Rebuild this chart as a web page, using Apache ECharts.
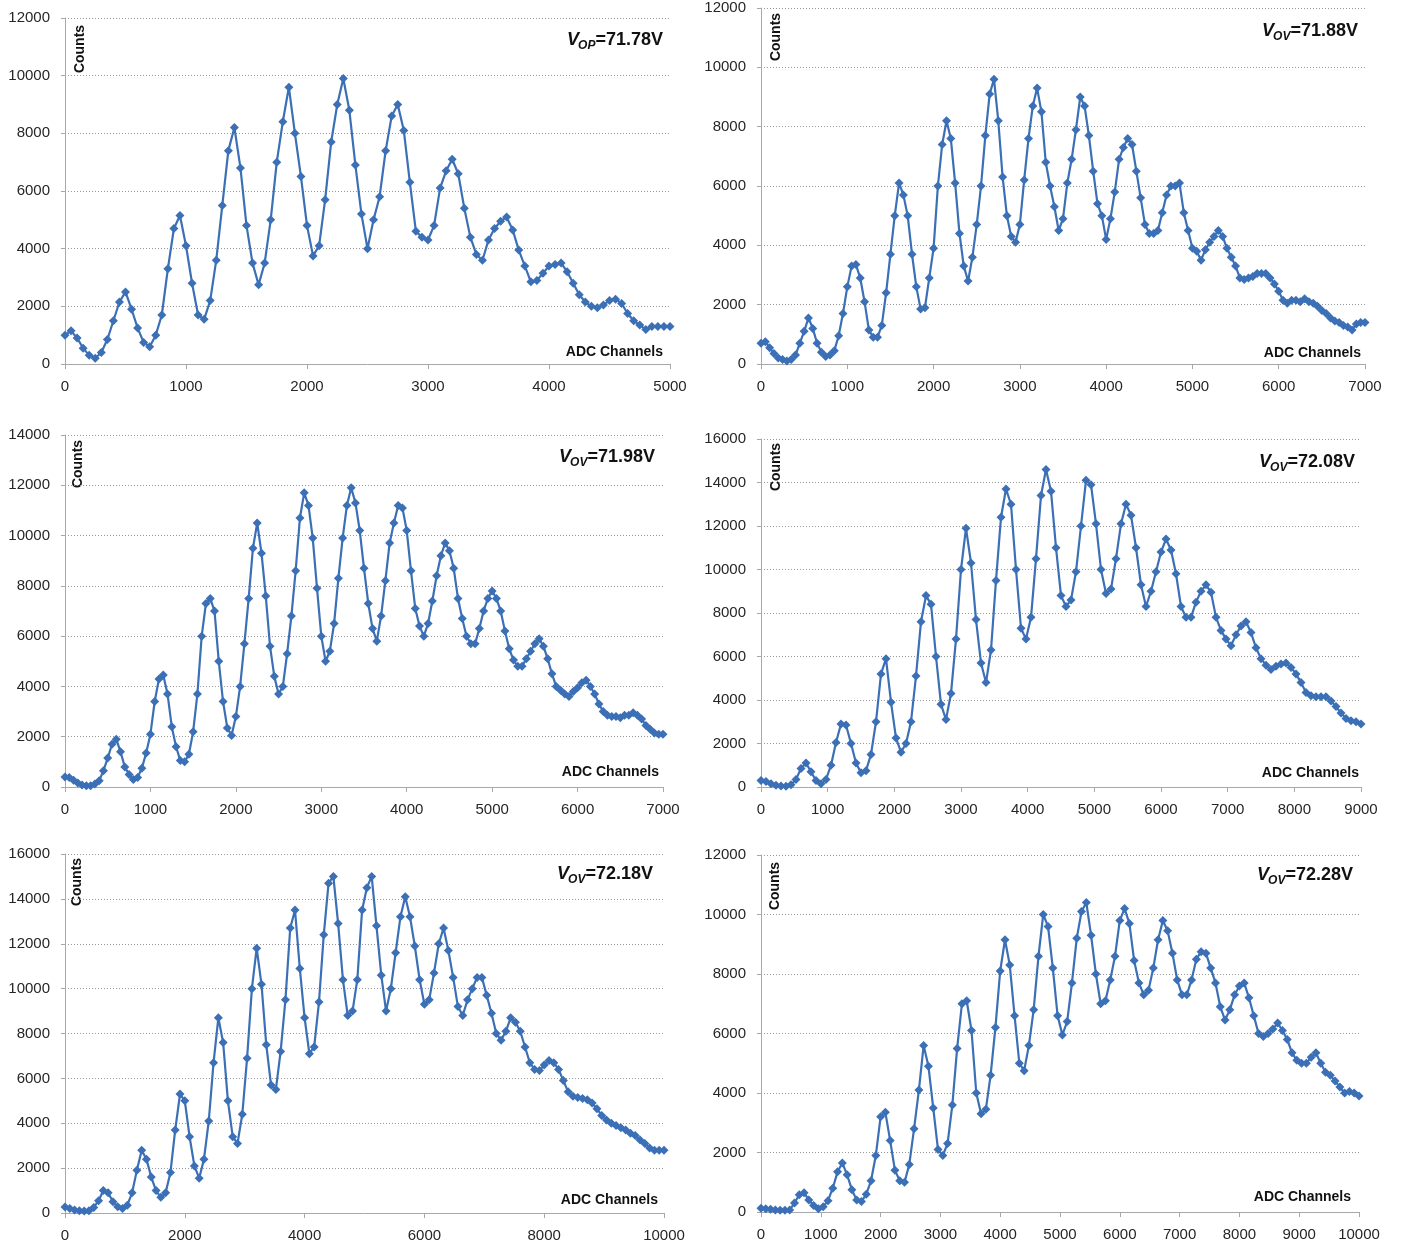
<!DOCTYPE html>
<html>
<head>
<meta charset="utf-8">
<script src="https://cdn.jsdelivr.net/npm/echarts@6/dist/echarts.min.js"></script>
<style>
html,body{margin:0;padding:0;background:#ffffff;}
#chart{width:1411px;height:1247px;}
</style>
</head>
<body>
<div id="chart"></div>
<script>
// ---------------- DATA (counts per ADC channel bin) ----------------
// Panel 1: V_OP = 71.78 V, channels 0..5000
const p1Channels = [0, 5000];
const p1Counts = [
  1000,1150,900,550,300,200,400,850,1500,2150,
  2500,1900,1250,750,600,1000,1700,3300,4700,5150,
  4100,2800,1700,1550,2200,3600,5500,7400,8200,6800,
  4800,3500,2750,3500,5000,7000,8400,9600,8000,6500,
  4800,3750,4100,5700,7700,9000,9900,8800,6900,5200,
  4000,5000,5800,7400,8600,9000,8100,6300,4600,4400,
  4300,4800,6100,6700,7100,6600,5400,4400,3800,3600,
  4300,4700,4950,5100,4650,3950,3400,2850,2900,3150,
  3400,3450,3500,3200,2800,2400,2150,2000,1950,2050,
  2200,2250,2100,1750,1500,1350,1200,1300,1300,1300,
  1300
];
// Panel 2: V_OV = 71.88 V, channels 0..7000
const p2Channels = [0, 7000];
const p2Counts = [
  700,750,550,350,200,150,100,150,300,700,
  1100,1550,1200,700,400,250,300,450,950,1700,
  2600,3300,3350,2900,2100,1150,900,900,1300,2400,
  3700,5000,6100,5700,5000,3700,2600,1850,1900,2900,
  3900,6000,7400,8200,7600,6100,4400,3300,2800,3600,
  4700,6000,7700,9100,9600,8200,6300,5000,4300,4100,
  4700,6200,7600,8700,9300,8500,6800,6000,5300,4500,
  4900,6100,6900,7900,9000,8700,7700,6500,5400,5000,
  4200,4900,5800,6900,7300,7600,7400,6500,5600,4700,
  4400,4400,4500,5100,5700,6000,6000,6100,5100,4500,
  3900,3800,3500,3850,4100,4300,4500,4300,3900,3600,
  3300,2900,2850,2900,2950,3050,3050,3050,2900,2700,
  2450,2150,2050,2150,2150,2100,2200,2100,2050,1950,
  1800,1700,1550,1450,1400,1300,1250,1150,1350,1400,
  1400
];
// Panel 3: V_OV = 71.98 V, channels 0..7000
const p3Channels = [0, 7000];
const p3Counts = [
  400,380,270,160,80,50,50,120,250,650,
  1150,1700,1900,1400,800,500,300,380,750,1350,
  2100,3400,4300,4450,3700,2400,1600,1050,1000,1300,
  2200,3700,6000,7300,7500,7000,5000,3400,2350,2050,
  2800,4000,5700,7500,9500,10500,9300,7600,5600,4400,
  3700,4000,5300,6800,8600,10700,11700,11200,9900,7900,
  6000,5000,5400,6500,8300,9900,11200,11900,11300,10200,
  8700,7300,6300,5800,6800,8200,9700,10500,11200,11100,
  10200,8600,7100,6400,6000,6500,7400,8400,9200,9700,
  9400,8700,7500,6700,6000,5700,5700,6300,7000,7500,
  7800,7500,7000,6200,5500,5050,4800,4800,5100,5400,
  5700,5900,5600,5100,4500,4000,3850,3700,3600,3800,
  3950,4150,4250,4000,3700,3300,3000,2850,2800,2800,
  2750,2850,2850,2950,2850,2700,2450,2300,2150,2100,
  2100
];
// Panel 4: V_OV = 72.08 V, channels 0..9000
const p4Channels = [0, 9000];
const p4Counts = [
  300,250,150,80,50,40,100,350,850,1100,
  700,300,150,350,1000,2050,2900,2850,2000,1100,
  650,750,1500,3000,5200,5900,3900,2250,1600,2000,
  3000,5100,7600,8800,8400,6000,3800,3100,4300,6800,
  10000,11900,10300,7700,5700,4800,6300,9500,12400,13700,
  13000,10000,7300,6800,7800,10500,13400,14600,13600,11000,
  8800,8300,8600,9900,12000,14100,13900,12100,10000,8900,
  9100,10500,12100,13000,12500,11000,9300,8300,9000,9900,
  10800,11400,10900,9800,8300,7800,7800,8500,9000,9300,
  8950,7800,7200,6800,6500,7000,7400,7600,7100,6400,
  5900,5600,5400,5550,5650,5700,5500,5200,4800,4350,
  4200,4150,4150,4150,3950,3700,3400,3150,3050,3000,
  2900
];
// Panel 5: V_OV = 72.18 V, channels 0..10000
const p5Channels = [0, 10000];
const p5Counts = [
  270,200,130,100,90,100,250,550,1000,900,
  500,280,200,350,900,1900,2800,2400,1600,1000,
  700,900,1800,3700,5300,5000,3400,2100,1550,2400,
  4100,6700,8700,7600,5000,3400,3100,4400,6900,10000,
  11800,10200,7500,5700,5500,7200,9500,12700,13500,10900,
  8700,7100,7400,9400,12400,14700,15000,12900,10400,8800,
  9000,10400,13500,14500,15000,12800,10600,9000,10000,11600,
  13200,14100,13200,11900,10400,9300,9500,10700,12000,12700,
  11700,10500,9200,8800,9500,10000,10500,10500,9700,8900,
  8000,7700,8100,8700,8500,8100,7400,6700,6400,6350,
  6600,6800,6700,6400,5900,5400,5200,5150,5100,5050,
  4900,4650,4350,4150,4000,3900,3800,3700,3550,3450,
  3250,3100,2900,2800,2800,2800
];
// Panel 6: V_OV = 72.28 V, channels 0..10000
const p6Channels = [0, 10000];
const p6Counts = [
  130,110,90,70,60,60,70,300,580,650,
  400,220,110,180,380,800,1350,1650,1250,750,
  400,350,600,1050,1900,3200,3350,2400,1400,1050,
  1000,1600,2800,4100,5600,4900,3500,2100,1900,2300,
  3600,5500,7000,7100,6100,4000,3300,3450,4600,6200,
  8100,9150,8300,6600,5000,4750,5600,6800,8600,10000,
  9600,8200,6600,5950,6400,7700,9200,10100,10400,9300,
  8000,7000,7100,7800,8600,9800,10200,9700,8450,7700,
  7300,7450,8200,9150,9800,9450,8700,7800,7300,7300,
  7800,8500,8750,8700,8200,7700,6900,6450,6800,7300,
  7600,7700,7200,6600,6000,5900,6000,6150,6350,6100,
  5800,5350,5100,5000,5000,5200,5350,5000,4700,4600,
  4400,4200,4000,4050,4000,3900
];

// Axis ranges / tick spacing
const xMaxes     = [5000, 7000, 7000, 9000, 10000, 10000];
const xIntervals = [1000, 1000, 1000, 1000, 2000, 1000];
const yMaxes     = [12000, 12000, 14000, 16000, 16000, 12000];
const yInterval  = 2000;

// Texts
const voltSubs   = ['OP', 'OV', 'OV', 'OV', 'OV', 'OV'];
const voltValues = ['=71.78V', '=71.88V', '=71.98V', '=72.08V', '=72.18V', '=72.28V'];
const yTitle = 'Counts';
const xTitle = 'ADC Channels';

// ---------------- LAYOUT ----------------
const countsList = [p1Counts, p2Counts, p3Counts, p4Counts, p5Counts, p6Counts];
const channelList = [p1Channels, p2Channels, p3Channels, p4Channels, p5Channels, p6Channels];
const grids = [
  {left: 65,  top: 18,  width: 605, height: 346},
  {left: 761, top: 8,   width: 604, height: 356},
  {left: 65,  top: 435, width: 598, height: 352},
  {left: 761, top: 439, width: 600, height: 348},
  {left: 65,  top: 854, width: 599, height: 359},
  {left: 761, top: 855, width: 598, height: 357}
];
// right edge x and cap-top y of the voltage labels
const voltPos   = [[663, 33], [1358, 24], [655, 450], [1355, 455], [653, 867], [1353, 868]];
const countsPos = [[80, 49], [776, 37], [78, 464], [776, 467], [77, 882], [775, 886]];
const adcPos    = [[663, 352], [1361, 353], [659, 772], [1359, 773], [658, 1200], [1351, 1197]];

const FONT = '"Liberation Sans", Arial, sans-serif';
const BLUE = '#3b6fb6';
const AXIS_GREY = '#a8a8a8';
const MAIN_FONT = 'bold 18px ' + FONT;
const MAIN_IT_FONT = 'italic bold 18px ' + FONT;
const SUB_FONT = 'italic bold 12px ' + FONT;

function pairs(counts, range) {
  const n = counts.length;
  const step = (range[1] - range[0]) / (n - 1);
  return counts.map((c, i) => [range[0] + i * step, c]);
}

const measureCtx = document.createElement('canvas').getContext('2d');
function textW(str, font) { measureCtx.font = font; return measureCtx.measureText(str).width; }

const option = {
  animation: false,
  backgroundColor: '#ffffff',
  grid: grids.map(g => Object.assign({containLabel: false}, g)),
  xAxis: grids.map((g, i) => ({
    gridIndex: i, type: 'value', min: 0, max: xMaxes[i], interval: xIntervals[i],
    axisLine: {show: true, onZero: false, lineStyle: {color: AXIS_GREY, width: 1}},
    axisTick: {show: true, length: 5, lineStyle: {color: AXIS_GREY}},
    axisLabel: {show: true, color: '#262626', fontSize: 15, fontFamily: FONT, margin: 15,
                showMaxLabel: true, showMinLabel: true, formatter: v => String(v)},
    splitLine: {show: false}
  })),
  yAxis: grids.map((g, i) => ({
    gridIndex: i, type: 'value', min: 0, max: yMaxes[i], interval: yInterval,
    axisLine: {show: true, lineStyle: {color: AXIS_GREY, width: 1}},
    axisTick: {show: true, length: 4, lineStyle: {color: AXIS_GREY}},
    axisLabel: {show: true, color: '#262626', fontSize: 15, fontFamily: FONT, margin: 15,
                formatter: v => String(v)},
    splitLine: {show: true, lineStyle: {color: '#9a9a9a', type: [1, 2], width: 1}}
  })),
  series: countsList.map((c, i) => ({
    type: 'line', xAxisIndex: i, yAxisIndex: i,
    data: pairs(c, channelList[i]),
    symbol: 'diamond', symbolSize: 9, showSymbol: true,
    lineStyle: {color: BLUE, width: 2.2},
    itemStyle: {color: BLUE},
    emphasis: {disabled: true},
    silent: true
  })),
  graphic: []
};

for (let i = 0; i < 6; i++) {
  const right = voltPos[i][0];
  const capTop = voltPos[i][1];
  const wN = textW(voltValues[i], MAIN_FONT);
  const wS = textW(voltSubs[i], SUB_FONT);
  const mainCenter = capTop + 6.6;
  const subCenter = capTop + 8.6 + 4.4;
  option.graphic.push({
    type: 'text', x: right, y: mainCenter, silent: true,
    style: {text: voltValues[i], font: MAIN_FONT, fill: '#111', align: 'right', verticalAlign: 'middle'}
  });
  option.graphic.push({
    type: 'text', x: right - wN, y: subCenter, silent: true,
    style: {text: voltSubs[i], font: SUB_FONT, fill: '#111', align: 'right', verticalAlign: 'middle'}
  });
  option.graphic.push({
    type: 'text', x: right - wN - wS + 1, y: mainCenter, silent: true,
    style: {text: 'V', font: MAIN_IT_FONT, fill: '#111', align: 'right', verticalAlign: 'middle'}
  });
  option.graphic.push({
    type: 'text', x: countsPos[i][0], y: countsPos[i][1], rotation: Math.PI / 2, silent: true,
    style: {text: yTitle, font: 'bold 14px ' + FONT, fill: '#111', align: 'center', verticalAlign: 'middle'}
  });
  option.graphic.push({
    type: 'text', x: adcPos[i][0], y: adcPos[i][1], silent: true,
    style: {text: xTitle, font: 'bold 14px ' + FONT, fill: '#111', align: 'right', verticalAlign: 'middle'}
  });
}

const chart = echarts.init(document.getElementById('chart'), null, {renderer: 'canvas', width: 1411, height: 1247});
chart.setOption(option);
</script>
</body>
</html>
